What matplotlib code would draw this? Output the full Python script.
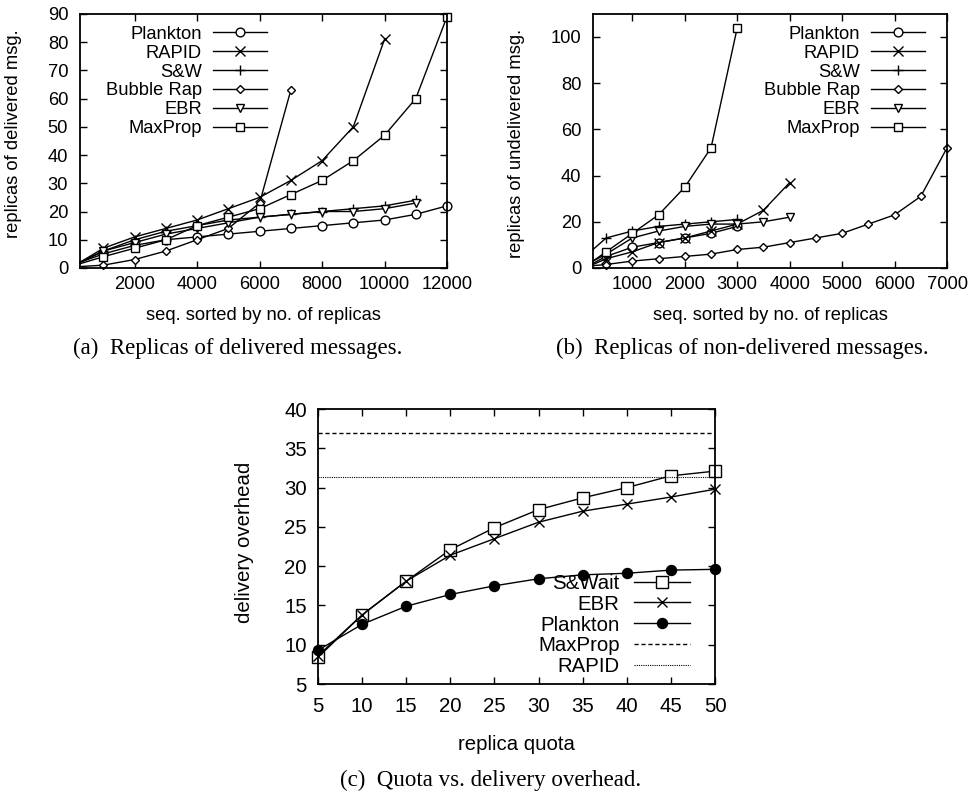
"""
plot.py - replicas per message (delivered / undelivered) and quota vs. overhead
"""
import matplotlib
matplotlib.use("Agg")
import matplotlib.pyplot as plt

plt.rcParams["font.family"] = ["Liberation Sans", "DejaVu Sans"]

# ---- (a) replicas of delivered messages -------------------------------------
a_x = [250, 1000, 2000, 3000, 4000, 5000, 6000, 7000, 8000, 9000, 10000, 11000, 12000]
a_plankton = [2, 5, 8, 10, 11, 12, 13, 14, 15, 16, 17, 19, 22]
a_rapid = [2, 7, 11, 14, 17, 21, 25, 31, 38, 50, 81]
a_sw = [2, 6, 10, 13, 15, 17, 18, 19, 20, 21, 22, 24]
a_bubble = [0.5, 1, 3, 6, 10, 14, 23, 63]
a_ebr = [2, 6, 9, 12, 14, 16, 18, 19, 20, 20, 21, 23]
a_maxprop = [1.5, 4, 7, 10, 15, 18, 21, 26, 31, 38, 47, 60, 89]

# ---- (b) replicas of undelivered messages -----------------------------------
b_x = [250, 500, 1000, 1500, 2000, 2500, 3000, 3500, 4000,
       4500, 5000, 5500, 6000, 6500, 7000]
b_plankton = [2, 5, 9, 11, 13, 15, 18]
b_rapid = [1.5, 4, 7, 11, 13, 16, 19, 25, 37]
b_sw = [8, 13, 16, 18, 19, 20, 21]
b_bubble = [1, 1.5, 3, 4, 5, 6, 8, 9, 11, 13, 15, 19, 23, 31, 52]
b_ebr = [3, 6, 13, 16, 18, 19, 19, 20, 22]
b_maxprop = [3, 7, 15, 23, 35, 52, 104]

# ---- (c) quota vs delivery overhead -----------------------------------------
quota = [5, 10, 15, 20, 25, 30, 35, 40, 45, 50]
c_swait = [8.4, 13.8, 18.1, 22.1, 24.9, 27.2, 28.7, 30.0, 31.5, 32.1]
c_ebr = [8.6, 13.8, 18.1, 21.4, 23.5, 25.6, 27.0, 27.9, 28.8, 29.8]
c_plankton = [9.3, 12.6, 14.9, 16.4, 17.5, 18.4, 18.9, 19.1, 19.5, 19.6]
c_maxprop = 37.0
c_rapid = 31.3

FS = 13.2
FS_C = 14.7
STYLES = {
    "Plankton":   dict(marker="o", ms=6.3),
    "RAPID":      dict(marker="x", ms=6.7, mew=1.0),
    "S&W":        dict(marker="+", ms=6.5, mew=1.0),
    "Bubble Rap": dict(marker="D", ms=4.5),
    "EBR":        dict(marker="v", ms=6.2),
    "MaxProp":    dict(marker="s", ms=6.0),
}


def style_axes(ax, fs, xpad, ypad):
    ax.tick_params(direction="in", length=5, width=1.0, top=True, right=True,
                   labelsize=fs)
    ax.tick_params(axis="x", pad=xpad)
    ax.tick_params(axis="y", pad=ypad)
    for s in ax.spines.values():
        s.set_linewidth(1.3)


def draw_series(ax, x, series):
    for name, y in series:
        st = STYLES[name]
        ax.plot(x[:len(y)], y, color="black", lw=1.0, mfc="white", mec="black",
                markevery=list(range(1, len(y))), label=name, clip_on=False, **st)


def gp_legend(ax, anchor, loc, fs, hl, pad, spacing):
    ax.legend(loc=loc, bbox_to_anchor=anchor, frameon=False, fontsize=fs,
              markerfirst=False, handlelength=hl, handletextpad=pad,
              labelspacing=spacing, borderpad=0, borderaxespad=0, numpoints=1)


fig = plt.figure(figsize=(9.73, 7.94), dpi=100)

# (a)
ax_a = fig.add_axes([0.0822, 0.6625, 0.3772, 0.32])
draw_series(ax_a, a_x, [("Plankton", a_plankton), ("RAPID", a_rapid), ("S&W", a_sw),
                        ("Bubble Rap", a_bubble), ("EBR", a_ebr), ("MaxProp", a_maxprop)])
ax_a.set_xlim(250, 12000)
ax_a.set_ylim(0, 90)
ax_a.set_xticks(range(2000, 12001, 2000))
ax_a.set_yticks(range(0, 91, 10))
ax_a.set_xlabel("seq. sorted by no. of replicas", fontsize=FS)
ax_a.set_ylabel("replicas of delivered msg.", fontsize=FS)
ax_a.xaxis.set_label_coords(0.5, -0.154)
ax_a.yaxis.set_label_coords(-0.158, 0.53)
style_axes(ax_a, FS, 6, 8.5)
gp_legend(ax_a, (0.5095, 0.953), "upper right", FS, 2.95, 0.6, 0.1)

# (b)
ax_b = fig.add_axes([0.6095, 0.6625, 0.3638, 0.32])
draw_series(ax_b, b_x, [("Plankton", b_plankton), ("RAPID", b_rapid), ("S&W", b_sw),
                        ("Bubble Rap", b_bubble), ("EBR", b_ebr), ("MaxProp", b_maxprop)])
ax_b.set_xlim(250, 7000)
ax_b.set_ylim(0, 110)
ax_b.set_xticks(range(1000, 7001, 1000))
ax_b.set_yticks(range(0, 101, 20))
ax_b.set_xlabel("seq. sorted by no. of replicas", fontsize=FS)
ax_b.set_ylabel("replicas of undelivered msg.", fontsize=FS)
ax_b.xaxis.set_label_coords(0.5, -0.154)
ax_b.yaxis.set_label_coords(-0.192, 0.49)
style_axes(ax_b, FS, 6, 8.5)
gp_legend(ax_b, (0.938, 0.953), "upper right", FS, 2.95, 0.6, 0.1)

# (c)
ax_c = fig.add_axes([0.3268, 0.1385, 0.408, 0.3463])
ax_c.plot(quota, c_swait, color="black", lw=1.0, marker="s", ms=8.3, mfc="white",
          mec="black", label="S&Wait", clip_on=False)
ax_c.plot(quota, c_ebr, color="black", lw=1.0, marker="x", ms=7.5, mew=1.0,
          label="EBR", clip_on=False)
ax_c.plot(quota, c_plankton, color="black", lw=1.0, marker="o", ms=7.2,
          mfc="black", mec="black", label="Plankton", clip_on=False)
ax_c.axhline(c_maxprop, color="black", lw=1.0, ls=(0, (3, 2)), label="MaxProp")
ax_c.axhline(c_rapid, color="black", lw=0.8, ls=(0, (1, 1)), label="RAPID")
ax_c.set_xlim(5, 50)
ax_c.set_ylim(5, 40)
ax_c.set_xticks(range(5, 51, 5))
ax_c.set_yticks(range(5, 41, 5))
ax_c.set_xlabel("replica quota", fontsize=FS_C)
ax_c.set_ylabel("delivery overhead", fontsize=FS_C)
ax_c.xaxis.set_label_coords(0.5, -0.185)
ax_c.yaxis.set_label_coords(-0.161, 0.516)
style_axes(ax_c, FS_C, 9.5, 8)
gp_legend(ax_c, (0.937, 0.028), "lower right", FS_C, 2.75, 0.69, 0.093)

# captions
cap = dict(fontsize=16.5, family=["Liberation Serif", "DejaVu Serif"],
           ha="center", va="center")
fig.text(238 / 973, 1 - 348 / 794, "(a)  Replicas of delivered messages.", **cap)
fig.text(742 / 973, 1 - 348 / 794, "(b)  Replicas of non-delivered messages.", **cap)
fig.text(491 / 973, 1 - 780 / 794, "(c)  Quota vs. delivery overhead.", **cap)

fig.savefig("out.png", dpi=100)
